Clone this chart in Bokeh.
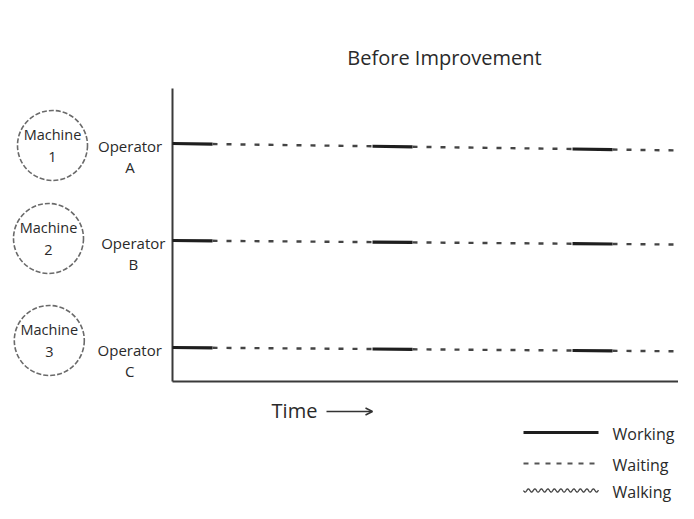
import numpy as np
from bokeh.plotting import figure
from bokeh.models import Range1d, Arrow, OpenHead, ColumnDataSource
from bokeh.core.properties import value
from bokeh.embed import file_html
from bokeh.resources import INLINE

# ---------------- data ----------------
chart_title = "Before Improvement"
machine_numbers = ["1", "2", "3"]
operators = ["A", "B", "C"]
working_start = [0, 5, 10]
working_end = [1, 6, 11]
waiting_start = [1, 6, 11]
waiting_end = [5, 10, 13]
legend_labels = ["Working", "Waiting", "Walking"]
time_label = "Time"
time_end = 13

# ---------------- layout (pixel-based y, time-unit x) ----------------
FONT = "Open Sans"
TXT = "#2a2a2a"
row_y = [143, 240, 347]          # y of each operator row
row_tilt = [0.55, 0.32, 0.3]     # scan tilt (px per time unit)
machine_x = [-3.0, -3.1, -3.08]
machine_y = [145, 238, 340]
oper_x = [-1.06, -0.98, -1.07]
axis_top, axis_bottom = 88, 381

p = figure(width=678, height=503, output_backend="svg", toolbar_location=None,
           x_range=Range1d(-4.3, 12.65), y_range=Range1d(503, 0),
           x_axis_location=None, y_axis_location=None, min_border=0,
           outline_line_color=None, background_fill_color="white")
p.grid.visible = False

# axes of the chart
p.segment(x0=[0, 0], y0=[axis_top, axis_bottom], x1=[0, time_end], y1=[axis_bottom, axis_bottom],
          line_color="#3a3a3a", line_width=2)

# working and waiting segments
wk = dict(x0=[], x1=[], y0=[], y1=[])
wt = dict(x0=[], x1=[], y0=[], y1=[])
for i, op in enumerate(operators):
    for s, e in zip(working_start, working_end):
        wk["x0"].append(s); wk["x1"].append(e)
        wk["y0"].append(row_y[i] + row_tilt[i] * s); wk["y1"].append(row_y[i] + row_tilt[i] * e)
    for s, e in zip(waiting_start, waiting_end):
        wt["x0"].append(s); wt["x1"].append(e)
        wt["y0"].append(row_y[i] + row_tilt[i] * s); wt["y1"].append(row_y[i] + row_tilt[i] * e)
p.segment(x0="x0", y0="y0", x1="x1", y1="y1", source=ColumnDataSource(wk),
          line_color="#1e1e1e", line_width=3.2)
p.segment(x0="x0", y0="y0", x1="x1", y1="y1", source=ColumnDataSource(wt),
          line_color="#444444", line_width=2.4, line_dash="5 9")

# machine circles
p.scatter(x=machine_x, y=machine_y, marker="circle", size=70, fill_color=None,
          line_color="#6a6a6a", line_width=1.6, line_dash="5 2")
p.text(x=machine_x, y=[y - 11 for y in machine_y], text=["Machine"] * 3,
       text_font=value(FONT), text_font_size="14.5px", text_align="center",
       text_baseline="middle", text_color=TXT)
p.text(x=machine_x, y=[y + 11 for y in machine_y], text=machine_numbers,
       text_font=value(FONT), text_font_size="14.5px", text_align="center",
       text_baseline="middle", text_color=TXT)

# operator labels
p.text(x=oper_x, y=[y + 2 for y in row_y], text=["Operator"] * 3,
       text_font=value(FONT), text_font_size="15px", text_align="center",
       text_baseline="middle", text_color=TXT)
p.text(x=oper_x, y=[y + 23 for y in row_y], text=operators,
       text_font=value(FONT), text_font_size="15px", text_align="center",
       text_baseline="middle", text_color=TXT)

# title
p.text(x=[6.8], y=[57], text=[chart_title], text_font=value(FONT), text_font_size="20px",
       text_align="center", text_baseline="middle", text_color=TXT)

# time label with arrow
p.text(x=[3.05], y=[410], text=[time_label], text_font=value(FONT), text_font_size="20px",
       text_align="center", text_baseline="middle", text_color=TXT)
p.add_layout(Arrow(end=OpenHead(size=7, line_color="#333333", line_width=1.5),
                   x_start=3.85, y_start=411, x_end=5.0, y_end=411,
                   line_color="#333333", line_width=1.5))

# legend
lx0, lx1 = 8.775, 10.65
ly = [432, 463, 490]
p.segment(x0=[lx0], y0=[ly[0]], x1=[lx1], y1=[ly[0]], line_color="#1e1e1e", line_width=3)
p.segment(x0=[lx0], y0=[ly[1]], x1=[lx1], y1=[ly[1]], line_color="#555555", line_width=2,
          line_dash="5 6")
wx = np.linspace(lx0, lx1, 200)
wy = ly[2] + 1.6 * np.sin((wx - lx0) * 40 / 6.5 * 2 * np.pi)
p.line(wx, wy, line_color="#444444", line_width=1.3)
p.text(x=[11.0] * 3, y=[y + 1 for y in ly], text=legend_labels, text_font=value(FONT),
       text_font_size="16px", text_align="left", text_baseline="middle", text_color=TXT)

open("out.html", "w").write(file_html(p, INLINE))
